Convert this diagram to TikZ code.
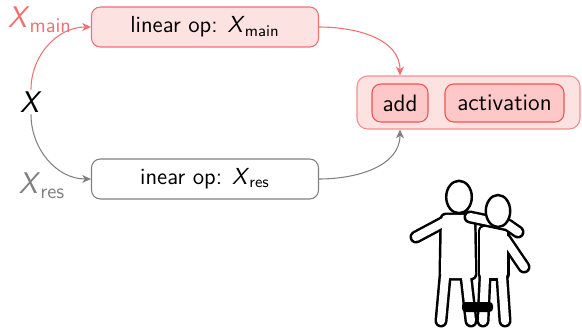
\documentclass[tikz,border=0pt]{standalone}
\usetikzlibrary{arrows.meta}

\definecolor{mainred}{RGB}{240,112,112}
\definecolor{mainfill}{RGB}{253,226,226}
\definecolor{stagered}{RGB}{242,82,82}
\definecolor{stagefill}{RGB}{255,200,200}
\definecolor{resgray}{RGB}{128,128,128}

\renewcommand{\familydefault}{\sfdefault}
\newcommand{\varX}[1]{\textit{X}\textsubscript{#1}}

\begin{document}
\begin{tikzpicture}[
	x=0.02cm, y=0.02cm,
	op/.style={
		draw, line width=0.6pt, rectangle, rounded corners=5pt,
		minimum width=4.54cm, minimum height=0.8cm,
		font=\fontsize{13.2}{15}\selectfont
	},
	opmain/.style={op, draw=mainred, fill=mainfill},
	opres/.style={op, draw=resgray},
	block/.style={
		draw=mainred!80, line width=0.6pt, fill=mainfill, rounded corners=6pt,
		minimum width=4.46cm, minimum height=1.06cm
	},
	stage/.style={
		draw=stagered, line width=0.6pt, fill=stagefill, rounded corners=5pt,
		minimum height=0.76cm, font=\fontsize{13.5}{15}\selectfont
	},
	varlabel/.style={font=\fontsize{17}{19}\selectfont, inner sep=1pt},
	redarr/.style={-{Stealth[length=5pt, width=4.5pt, inset=1.5pt]}, mainred, line width=0.6pt},
	grayarr/.style={-{Stealth[length=5pt, width=4.5pt, inset=1.5pt]}, resgray, line width=0.6pt},
	outer/.style={line width=7.4pt, line cap=round, line join=round},
	inner/.style={white, line width=4.6pt, line cap=round, line join=round},
	head/.style={draw, fill=white, line width=1.4pt},
	]
	\useasboundingbox (0,0) rectangle (582,329);
	
	% input and its two branches
	\node[varlabel] (x)     at (31,227)  {\textit{X}};
	\node[varlabel, text=mainred] (xmain) at (40,309) {\varX{main}};
	\node[varlabel, text=resgray] (xres)  at (42,143) {\varX{res}};
	
	\node[opmain] (linmain) at (205,302) {linear op: \varX{main}};
	\node[opres]  (linres)  at (205,150) {inear op: \varX{res}};
	
	% add + activation
	\node[block] (blk) at (468.5,226.5) {};
	\node[stage, minimum width=1.12cm] (add) at (400,226)   {add};
	\node[stage, minimum width=2.38cm] (act) at (504.5,226) {activation};
	
	% arrows
	\draw[redarr]  (x.north) to[out=90, in=180] (linmain.west);
	\draw[grayarr] (x.south) to[out=-90, in=180] (linres.west);
	\draw[redarr]  (linmain.east) to[out=0, in=90] (blk.north -| add);
	\draw[grayarr] (linres.east) to[out=0, in=-90] (blk.south -| add);
	
	% two people tied at the leg
	\begin{scope}
		% left person
		\filldraw[outer] (446,110) -- (470,110) -- (471,55) -- (445,55) -- cycle;
		\draw[outer] (445,52) -- (441,8) (466,52) -- (471,8) (446,108) -- (416,92);
		\filldraw[inner] (446,110) -- (470,110) -- (471,55) -- (445,55) -- cycle;
		\draw[inner] (445,52) -- (441,8) (466,52) -- (471,8) (446,108) -- (416,92);
		\draw[head] (459,132) ellipse (12.8 and 16.2);
		% right person
		\filldraw[outer] (484,98) -- (503,98) -- (503,55) -- (484,55) -- cycle;
		\draw[outer] (485,52) -- (483,8) (502,52) -- (505,8) (505,90) -- (524,62);
		\filldraw[inner] (484,98) -- (503,98) -- (503,55) -- (484,55) -- cycle;
		\draw[inner] (485,52) -- (483,8) (502,52) -- (505,8) (505,90) -- (524,62);
		% arm over the shoulders
		\draw[outer] (470,112) -- (508,104) -- (518,97);
		\draw[inner] (470,112) -- (508,104) -- (518,97);
		\draw[head] (498,118) ellipse (12.2 and 16);
		% the band
		\fill[rounded corners=2pt] (462,17) rectangle (493,27);
	\end{scope}
	
\end{tikzpicture}
\end{document}
